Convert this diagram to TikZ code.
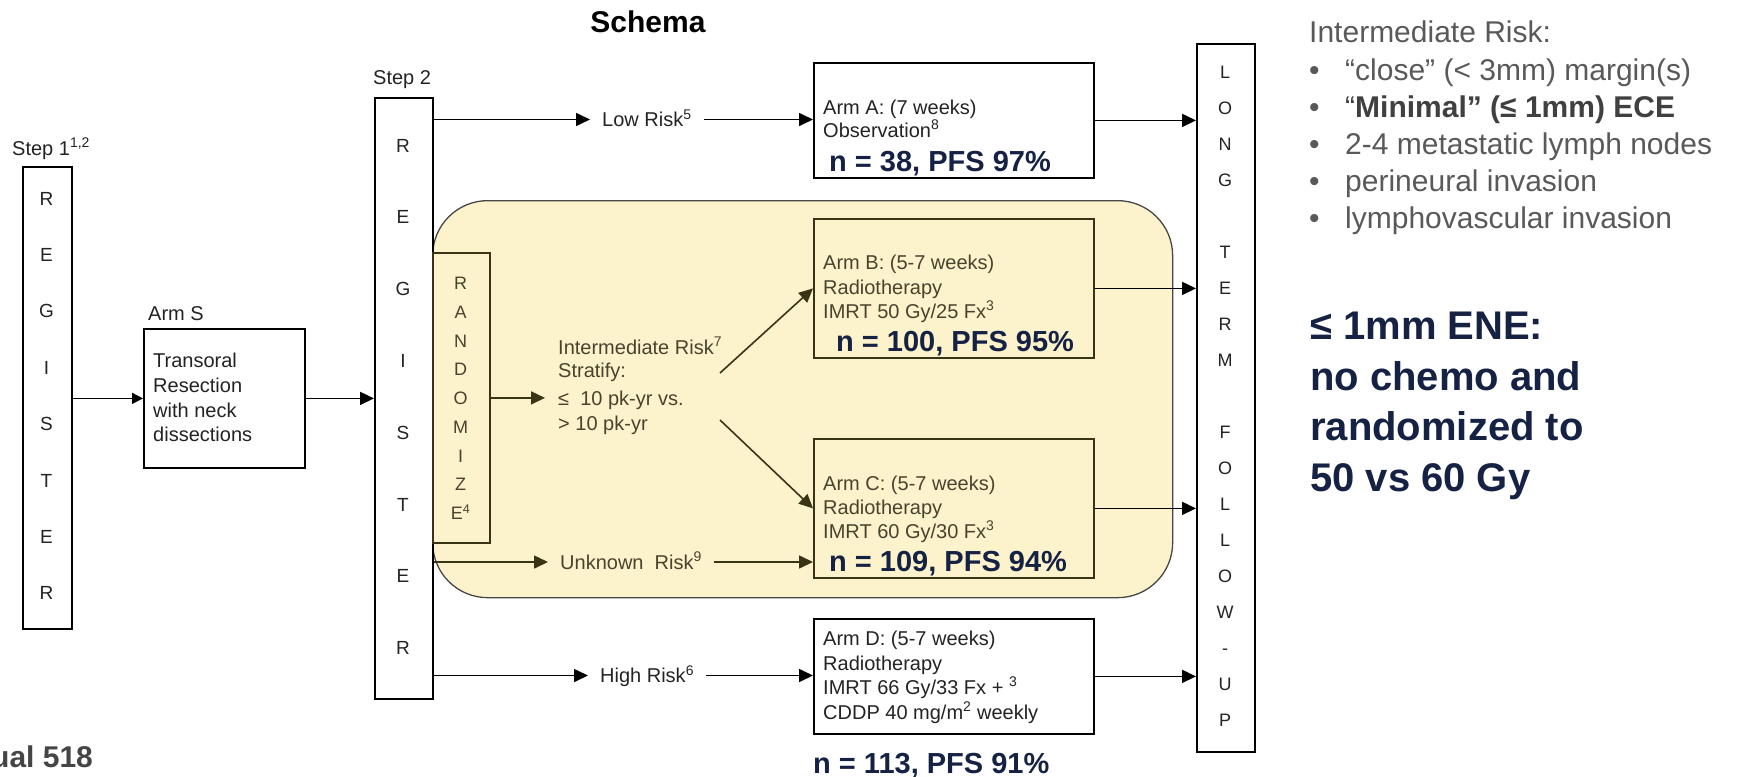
\documentclass[tikz,border=0pt]{standalone}
\usepackage{fontspec}
\setmainfont{Liberation Sans}
\usetikzlibrary{arrows.meta}
\definecolor{yel}{RGB}{252,242,203}
\definecolor{olv}{RGB}{58,52,22}
\definecolor{olvtxt}{RGB}{72,67,46}
\definecolor{navy}{RGB}{22,34,68}
\definecolor{gtxt}{RGB}{89,89,89}
\definecolor{gbold}{RGB}{64,64,64}
\definecolor{dtxt}{RGB}{35,35,35}
\newcommand{\fsz}[2]{\fontsize{#1}{#2}\selectfont}
\begin{document}
\begin{tikzpicture}[x=1pt,y=-1pt,
  box/.style={draw=black, line width=1.8pt, fill=white, inner sep=0pt, anchor=north west},
  obox/.style={draw=olv, line width=1.8pt, inner sep=0pt, anchor=north west},
  tx/.style={anchor=base west, inner sep=0pt, text=dtxt, font=\fsz{20}{24}},
  otx/.style={tx, text=olvtxt},
  ntx/.style={anchor=base west, inner sep=0pt, text=navy, font=\bfseries\fsz{29}{34}},
  lt/.style={anchor=base, inner sep=0pt, text=dtxt, font=\fsz{19}{22}},
  lts/.style={anchor=base, inner sep=0pt, text=dtxt, font=\fsz{18}{22}},
  olt/.style={lts, text=olvtxt},
  lbl/.style={anchor=west, inner xsep=12pt, inner ysep=0pt, text height=14.3pt, text depth=0pt, text=dtxt, font=\fsz{20}{24}},
  olbl/.style={lbl, text=olvtxt},
  arr/.style={line width=1.6pt, draw=black, -{Triangle[length=14pt,width=13pt]}},
  arrs/.style={line width=1.6pt, draw=black, -{Triangle[length=11pt,width=11pt]}},
  arrO/.style={line width=1.6pt, color=olv, -{Triangle[length=14pt,width=13pt]}},
  rtx/.style={anchor=base west, inner sep=0pt, text=gtxt, font=\fsz{30}{36}},
  btx/.style={anchor=base west, inner sep=0pt, text=navy, font=\bfseries\fsz{40}{48}}
]
\useasboundingbox (0,0) rectangle (1744,776);

% yellow band
\node[draw=black!72, line width=1.3pt, fill=yel, rounded corners=55pt, minimum width=740pt, minimum height=397pt, inner sep=0pt, anchor=north west] (yband) at (432,200) {};

% title
\node[anchor=base, inner sep=0pt, font=\bfseries\fsz{30}{34}] (title) at (648,33) {Schema};

% Step 1
\node[anchor=base west, inner sep=0pt, text=dtxt, font=\fsz{20}{24}] (step1lbl) at (12,155) {Step 1\textsuperscript{1,2}};
\node[box, minimum width=49pt, minimum height=462pt] (step1) at (22,166) {};
\foreach \c [count=\i from 0] in {R,E,G,I,S,T,E,R}
  \node[lt] (s1l\i) at (46.5,{205+56.4*\i}) {\c};

% Arm S
\node[tx] (armSlbl) at (148,320) {Arm S};
\node[box, minimum width=161pt, minimum height=139pt] (armS) at (143,328) {};
\node[tx] (armS1) at (153,367) {Transoral};
\node[tx] (armS2) at (153,392) {Resection};
\node[tx] (armS3) at (153,417) {with neck};
\node[tx] (armS4) at (153,441) {dissections};

% Step 2
\node[tx] (step2lbl) at (373,84) {Step 2};
\node[box, minimum width=58pt, minimum height=601pt] (step2) at (374,97) {};
\foreach \c [count=\i from 0] in {R,E,G,I,S,T,E,R}
  \node[lt] (s2l\i) at (403,{152+71.8*\i}) {\c};

% Randomize
\node[obox, minimum width=57pt, minimum height=290pt] (rand) at (432,252) {};
\foreach \c [count=\i from 0] in {R,A,N,D,O,M,I,Z}
  \node[olt] (rl\i) at (460.5,{289.5+28.75*\i}) {\c};
\node[olt] (rl8) at (460.5,{289.5+28.75*8}) {E\textsuperscript{4}};

% Stratify text
\node[otx] (st1) at (558,354) {Intermediate Risk\textsuperscript{7}};
\node[otx] (st2) at (558,377) {Stratify:};
\node[otx] (st3) at (558,405) {≤\ \ 10 pk-yr vs.};
\node[otx] (st4) at (558,430) {> 10 pk-yr};

% Arms
\node[box, minimum width=280pt, minimum height=115pt] (armA) at (813,62) {};
\node[tx] (armA1) at (823,114) {Arm A: (7 weeks)};
\node[tx] (armA2) at (823,137) {Observation\textsuperscript{8}};
\node[ntx] (nA) at (829,171) {n = 38, PFS 97\%};

\node[obox, minimum width=280pt, minimum height=139pt] (armB) at (813,218) {};
\node[otx] (armB1) at (823,269) {Arm B: (5-7 weeks)};
\node[otx] (armB2) at (823,294) {Radiotherapy};
\node[otx] (armB3) at (823,318) {IMRT 50 Gy/25 Fx\textsuperscript{3}};
\node[ntx] (nB) at (836,351) {n = 100, PFS 95\%};

\node[obox, minimum width=280pt, minimum height=139pt] (armC) at (813,438) {};
\node[otx] (armC1) at (823,490) {Arm C: (5-7 weeks)};
\node[otx] (armC2) at (823,514) {Radiotherapy};
\node[otx] (armC3) at (823,538) {IMRT 60 Gy/30 Fx\textsuperscript{3}};
\node[ntx] (nC) at (829,571) {n = 109, PFS 94\%};

\node[box, minimum width=280pt, minimum height=115pt] (armD) at (813,618) {};
\node[tx] (armD1) at (823,645) {Arm D: (5-7 weeks)};
\node[tx] (armD2) at (823,670) {Radiotherapy};
\node[tx] (armD3) at (823,694) {IMRT 66 Gy/33 Fx + \textsuperscript{3}};
\node[tx] (armD4) at (823,719) {CDDP 40 mg/m\textsuperscript{2} weekly};
\node[ntx] (nD) at (813,773) {n = 113, PFS 91\%};

% Long term follow-up
\node[box, minimum width=58pt, minimum height=708pt] (ltf) at (1196,43) {};
\foreach \c [count=\i from 0] in {L,O,N,G,{},T,E,R,M,{},F,O,L,L,O,W,-,U,P}
  \node[lts] (fl\i) at (1225,{78.5+36*\i}) {\c};

% risk labels
\node[lbl] (lowl) at (590,119.5) {Low Risk\textsuperscript{5}};
\node[olbl] (unkl) at (548,562) {Unknown\ \ Risk\textsuperscript{9}};
\node[lbl] (highl) at (588,675.5) {High Risk\textsuperscript{6}};

% connectors
\draw[arrs] (step1.east |- armS.west) -- (armS.west);
\draw[arr] (armS.east) -- (step2.west |- armS.east);
\draw[arr] (step2.east |- lowl.west) -- (lowl.west);
\draw[arr] (lowl.east) -- (armA.west |- lowl.east);
\draw[arr] (step2.east |- highl.west) -- (highl.west);
\draw[arr] (highl.east) -- (armD.west |- highl.east);
\draw[arrO] (step2.east |- unkl.west) -- (unkl.west);
\draw[arrO] (unkl.east) -- (armC.west |- unkl.east);
\draw[arrO] (rand.east) -- ([xshift=-13pt]rand.east -| st3.west);
\coordinate (dA) at (720,373);
\coordinate (dB) at (720,420);
\draw[arrO] (dA) -- (armB.west);
\draw[arrO] (dB) -- (armC.west);
\draw[arr] (armA.east) -- (ltf.west |- armA.east);
\draw[arr] (armB.east) -- (ltf.west |- armB.east);
\draw[arr] (armC.east) -- (ltf.west |- armC.east);
\draw[arr] (armD.east) -- (ltf.west |- armD.east);

% right texts
\node[rtx] (ir0) at (1309,42) {Intermediate Risk:};
\node[rtx] (irb1) at (1309,80) {•};
\node[rtx] (ir1) at (1345,80) {“close” (< 3mm) margin(s)};
\node[rtx] (irb2) at (1309,117) {•};
\node[rtx, text=gbold] (ir2) at (1345,117) {“\textbf{Minimal” (≤ 1mm) ECE}};
\node[rtx] (irb3) at (1309,154) {•};
\node[rtx] (ir3) at (1345,154) {2-4 metastatic lymph nodes};
\node[rtx] (irb4) at (1309,191) {•};
\node[rtx] (ir4) at (1345,191) {perineural invasion};
\node[rtx] (irb5) at (1309,228) {•};
\node[rtx] (ir5) at (1345,228) {lymphovascular invasion};

\node[btx] (ene1) at (1310,339) {≤ 1mm ENE:};
\node[btx] (ene2) at (1310,390) {no chemo and};
\node[btx] (ene3) at (1310,440) {randomized to};
\node[btx] (ene4) at (1310,491) {50 vs 60 Gy};

% footer
\node[anchor=base west, inner sep=0pt, text=black!73, font=\bfseries\fsz{30}{34}] (foot) at (-9,767) {ual 518};
\end{tikzpicture}
\end{document}
